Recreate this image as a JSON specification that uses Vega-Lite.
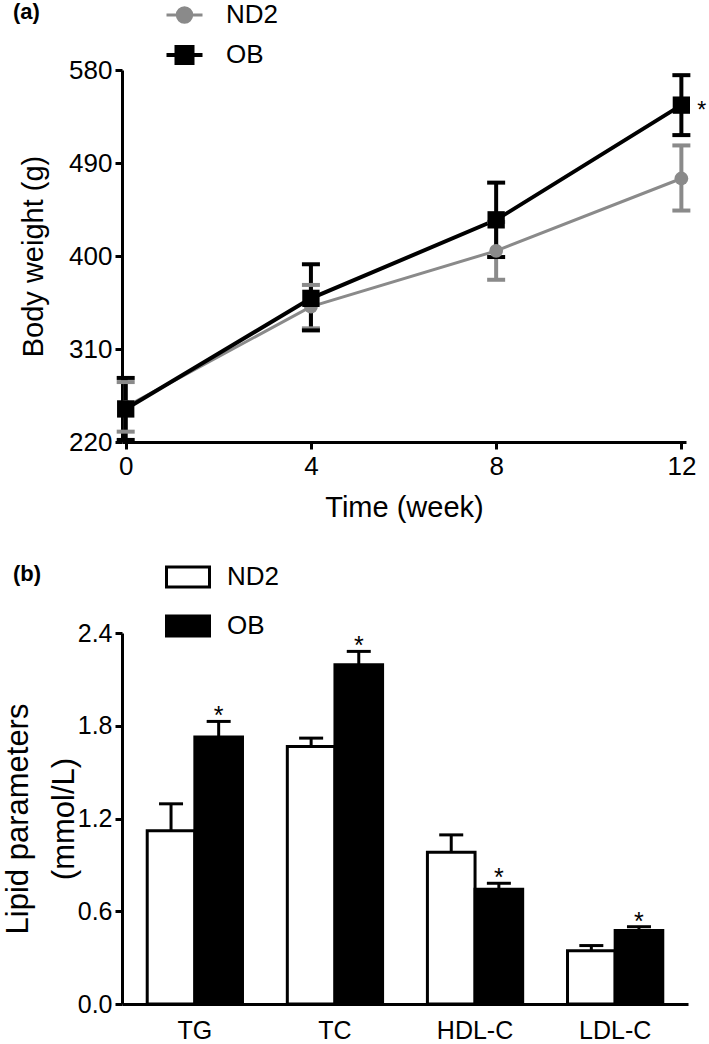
{
  "$schema": "https://vega.github.io/schema/vega-lite/v6.json",
  "padding": {"top": 2, "left": 2, "right": 0, "bottom": 0},
  "background": "white",
  "config": {
    "view": {"stroke": null},
    "font": "Liberation Sans",
    "axis": {"domainColor": "black", "tickColor": "black", "labelColor": "black", "titleColor": "black", "domainWidth": 3, "tickWidth": 3, "tickSize": 7, "grid": false, "titleFontWeight": "normal", "labelFont": "Liberation Sans", "titleFont": "Liberation Sans"},
    "legend": {"labelFont": "Liberation Sans", "labelColor": "black", "titleFont": "Liberation Sans", "titleColor": "black"}
  },
  "bounds": "flush",
  "spacing": 191,
  "resolve": {"scale": {"color": "independent", "fill": "independent", "strokeWidth": "independent"}, "legend": {"color": "independent", "fill": "independent"}},
  "vconcat": [
    {
      "width": 564,
      "height": 372,
      "data": {"values": [
        {"week": 0, "group": "ND2", "mean": 254, "lo": 230, "hi": 278},
        {"week": 4, "group": "ND2", "mean": 351, "lo": 330, "hi": 372},
        {"week": 8, "group": "ND2", "mean": 405, "lo": 377, "hi": 433},
        {"week": 12, "group": "ND2", "mean": 475, "lo": 444, "hi": 507},
        {"week": 0, "group": "OB", "mean": 252, "lo": 222, "hi": 282},
        {"week": 4, "group": "OB", "mean": 359, "lo": 328, "hi": 392},
        {"week": 8, "group": "OB", "mean": 435, "lo": 399, "hi": 471},
        {"week": 12, "group": "OB", "mean": 546, "lo": 517, "hi": 575, "sig": "*"}
      ]},
      "encoding": {
        "x": {"field": "week", "type": "quantitative", "scale": {"domain": [-0.08, 12.1], "nice": false, "zero": false},
              "axis": {"values": [0, 4, 8, 12], "title": "Time (week)", "labelFontSize": 26, "titleFontSize": 29, "labelPadding": 4, "titlePadding": 14}},
        "color": {"field": "group", "type": "nominal", "scale": {"domain": ["ND2", "OB"], "range": ["#8a8a8a", "#000000"]},
                  "legend": {"orient": "none", "legendX": -109, "legendY": -68, "title": "(a)", "titleOrient": "left", "titleAnchor": "start", "titleBaseline": "top", "titleFontSize": 22, "titleFontWeight": "bold", "titlePadding": 131.5,
                    "symbolSize": 400, "labelFontSize": 26, "labelOffset": 28.5, "rowPadding": 10, "padding": 0, "symbolStrokeWidth": 3,
                    "encode": {"symbols": {"update": {
                      "shape": [{"test": "datum.value === 'OB'", "value": "M-1.8,0H1.8M-0.8,-0.8H0.8V0.8H-0.8Z"}, {"value": "M-1.8,0H1.8M0.72,0A0.72,0.72,0,1,1,-0.72,0A0.72,0.72,0,1,1,0.72,0Z"}],
                      "fill": [{"test": "datum.value === 'OB'", "value": "#000000"}, {"value": "#8a8a8a"}],
                      "stroke": [{"test": "datum.value === 'OB'", "value": "#000000"}, {"value": "#8a8a8a"}],
                      "strokeWidth": {"value": 3.5},
                      "opacity": {"value": 1},
                      "fillOpacity": {"value": 1}
                    }}}}}
      },
      "layer": [
        {"mark": {"type": "line"},
         "encoding": {
           "y": {"field": "mean", "type": "quantitative", "scale": {"domain": [220, 580], "nice": false, "zero": false},
                 "axis": {"values": [220, 310, 400, 490, 580], "title": "Body weight (g)", "labelFontSize": 26, "titleFontSize": 29, "labelPadding": 3, "titlePadding": 20}},
           "strokeWidth": {"field": "group", "type": "nominal", "scale": {"domain": ["ND2", "OB"], "range": [3, 4]}, "legend": null}
         }},
        {"mark": {"type": "rule", "strokeWidth": 4},
         "encoding": {"y": {"field": "lo", "type": "quantitative"}, "y2": {"field": "hi"}}},
        {"mark": {"type": "tick", "orient": "horizontal", "size": 18, "thickness": 4, "opacity": 1},
         "encoding": {"y": {"field": "lo", "type": "quantitative"}}},
        {"mark": {"type": "tick", "orient": "horizontal", "size": 18, "thickness": 4, "opacity": 1},
         "encoding": {"y": {"field": "hi", "type": "quantitative"}}},
        {"transform": [{"filter": "datum.group === 'ND2'"}],
         "mark": {"type": "point", "filled": true, "opacity": 1, "shape": "circle", "size": 190},
         "encoding": {"y": {"field": "mean", "type": "quantitative"}}},
        {"transform": [{"filter": "datum.group === 'OB'"}],
         "mark": {"type": "point", "filled": true, "opacity": 1, "shape": "square", "size": 300},
         "encoding": {"y": {"field": "mean", "type": "quantitative"}}},
        {"transform": [{"filter": "datum.sig"}],
         "mark": {"type": "text", "align": "left", "baseline": "middle", "dx": 16, "dy": 6, "fontSize": 23},
         "encoding": {"y": {"field": "mean", "type": "quantitative"}, "text": {"field": "sig"}, "color": {"value": "black"}}}
      ]
    },
    {
      "width": 566,
      "height": 371,
      "data": {"values": [
        {"param": "TG", "group": "ND2", "value": 1.12, "hi": 1.295},
        {"param": "TG", "group": "OB", "value": 1.727, "hi": 1.828, "sig": "*"},
        {"param": "TC", "group": "ND2", "value": 1.666, "hi": 1.72},
        {"param": "TC", "group": "OB", "value": 2.195, "hi": 2.281, "sig": "*"},
        {"param": "HDL-C", "group": "ND2", "value": 0.982, "hi": 1.094},
        {"param": "HDL-C", "group": "OB", "value": 0.742, "hi": 0.781, "sig": "*"},
        {"param": "LDL-C", "group": "ND2", "value": 0.345, "hi": 0.378},
        {"param": "LDL-C", "group": "OB", "value": 0.475, "hi": 0.5, "sig": "*"}
      ]},
      "encoding": {
        "x": {"field": "param", "type": "nominal", "sort": ["TG", "TC", "HDL-C", "LDL-C"], "scale": {"paddingInner": 0.32, "paddingOuter": 0.18},
              "axis": {"title": null, "ticks": false, "labelAngle": 0, "labelFontSize": 25, "labelPadding": 14}},
        "xOffset": {"field": "group", "type": "nominal", "sort": ["ND2", "OB"], "scale": {"paddingInner": 0, "paddingOuter": 0}}
      },
      "layer": [
        {"mark": {"type": "rule", "strokeWidth": 3, "color": "black"},
         "encoding": {"y": {"field": "value", "type": "quantitative"}, "y2": {"field": "hi"}}},
        {"mark": {"type": "tick", "orient": "horizontal", "size": 24, "thickness": 3, "color": "black", "opacity": 1},
         "encoding": {"y": {"field": "hi", "type": "quantitative"}}},
        {"mark": {"type": "bar", "stroke": "black", "strokeWidth": 3, "opacity": 1},
         "encoding": {
           "y": {"field": "value", "type": "quantitative", "scale": {"domain": [0, 2.4], "nice": false},
                 "axis": {"values": [0, 0.6, 1.2, 1.8, 2.4], "format": ".1f", "title": ["Lipid parameters", "(mmol/L)"], "titleFontSize": 31, "titleLineHeight": 46, "labelFontSize": 25, "labelPadding": 3, "titlePadding": -3}},
           "fill": {"field": "group", "type": "nominal", "scale": {"domain": ["ND2", "OB"], "range": ["#ffffff", "#000000"]},
                    "legend": {"orient": "none", "legendX": -109, "legendY": -69, "title": "(b)", "titleOrient": "left", "titleAnchor": "start", "titleBaseline": "top", "titleFontSize": 22, "titleFontWeight": "bold", "titlePadding": 133,
                      "symbolType": "M-2.15,-1H2.15V1H-2.15Z", "symbolSize": 400, "symbolStrokeColor": "black", "symbolStrokeWidth": 3, "labelFontSize": 26, "labelOffset": 26, "rowPadding": 17, "padding": 0,
                      "encode": {"symbols": {"update": {
                        "shape": {"value": "M-2.15,-1H2.15V1H-2.15Z"},
                        "stroke": {"value": "#000000"},
                        "strokeWidth": {"value": 3},
                        "opacity": {"value": 1},
                        "fillOpacity": {"value": 1}
                      }}}}}
         }},
        {"transform": [{"filter": "datum.sig"}],
         "mark": {"type": "text", "align": "center", "baseline": "alphabetic", "dy": 3, "fontSize": 25, "color": "black"},
         "encoding": {"y": {"field": "hi", "type": "quantitative"}, "text": {"field": "sig"}}}
      ]
    }
  ]
}
